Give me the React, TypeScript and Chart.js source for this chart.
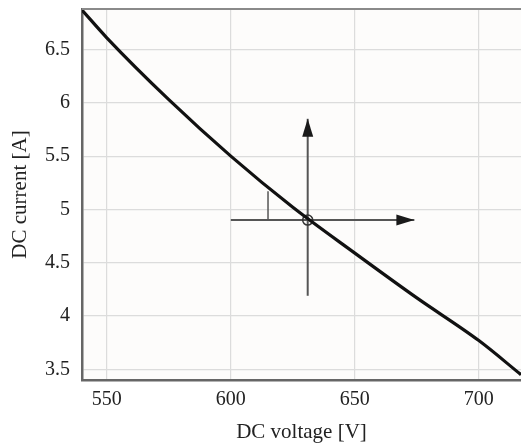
import React, { useEffect, useRef } from "react";
import { Chart, registerables } from "chart.js";

Chart.register(...registerables);

// Characteristic curve
const voltage = [540, 550, 575, 600, 625, 650, 675, 700, 717];
const current = [6.87, 6.61, 6.03, 5.5, 5.02, 4.59, 4.17, 3.77, 3.45];

// Operating point and arrows
const opVoltage = 631;
const opCurrent = 4.9;
const hArrowVoltage = [600, 674];
const vArrowCurrent = [4.19, 5.85];
const markVoltage = 615;
const markCurrent = [4.9, 5.17];

const xTicks = [550, 600, 650, 700];
const yTicks = [3.5, 4, 4.5, 5, 5.5, 6, 6.5];

const arrowPlugin = {
  id: "arrowHeads",
  afterDatasetsDraw(chart: any) {
    const ctx = chart.ctx;
    chart.data.datasets.forEach((ds: any, i: number) => {
      if (!ds.arrow) return;
      const meta = chart.getDatasetMeta(i);
      const pts = meta.data;
      const a = pts[pts.length - 2];
      const b = pts[pts.length - 1];
      const ang = Math.atan2(b.y - a.y, b.x - a.x);
      const len = 18;
      const hw = 5.5;
      ctx.save();
      ctx.translate(b.x, b.y);
      ctx.rotate(ang);
      ctx.beginPath();
      ctx.moveTo(0, 0);
      ctx.lineTo(-len, -hw);
      ctx.lineTo(-len, hw);
      ctx.closePath();
      ctx.fillStyle = "#1a1a1a";
      ctx.fill();
      ctx.restore();
    });
  },
  beforeDraw(chart: any) {
    const { ctx, chartArea } = chart;
    ctx.save();
    ctx.fillStyle = "#fdfcfb";
    ctx.fillRect(chartArea.left, chartArea.top, chartArea.right - chartArea.left, chartArea.bottom - chartArea.top);
    ctx.restore();
  },
  afterDraw(chart: any) {
    const { ctx, chartArea } = chart;
    ctx.save();
    ctx.strokeStyle = "#8a8a8a";
    ctx.lineWidth = 2;
    ctx.beginPath();
    ctx.moveTo(chartArea.left, chartArea.top);
    ctx.lineTo(chartArea.right, chartArea.top);
    ctx.stroke();
    ctx.restore();
  },
};

export default function App() {
  const ref = useRef<HTMLCanvasElement | null>(null);
  useEffect(() => {
    document.body.style.margin = "0";
    const family = "'Liberation Serif', 'Times New Roman', serif";
    const tickFont = { family, size: 20 };
    const titleFont = { family, size: 21 };
    const chart = new Chart(ref.current as HTMLCanvasElement, {
      type: "line",
      data: {
        datasets: [
          {
            data: voltage.map((v, i) => ({ x: v, y: current[i] })),
            borderColor: "#111",
            borderWidth: 3.2,
            pointRadius: 0,
            cubicInterpolationMode: "monotone",
            order: 0,
          },
          {
            data: hArrowVoltage.map((v) => ({ x: v, y: opCurrent })),
            borderColor: "#555",
            borderWidth: 2,
            pointRadius: 0,
            arrow: true,
            order: 1,
          } as any,
          {
            data: vArrowCurrent.map((c) => ({ x: opVoltage, y: c })),
            borderColor: "#555",
            borderWidth: 2,
            pointRadius: 0,
            arrow: true,
            order: 1,
          } as any,
          {
            data: markCurrent.map((c) => ({ x: markVoltage, y: c })),
            borderColor: "#555",
            borderWidth: 1.5,
            pointRadius: 0,
            order: 1,
          },
          {
            data: [{ x: opVoltage, y: opCurrent }],
            showLine: false,
            pointRadius: 5,
            pointBorderWidth: 1.5,
            pointBorderColor: "#333",
            pointBackgroundColor: "rgba(0,0,0,0)",
            order: 0,
          },
        ],
      },
      options: {
        responsive: false,
        animation: false,
        layout: { autoPadding: false, padding: { top: 9, right: 0, left: 0, bottom: 0 } },
        plugins: { legend: { display: false }, tooltip: { enabled: false } },
        scales: {
          x: {
            type: "linear",
            min: 540,
            max: 717,
            afterBuildTicks: (s: any) => {
              s.ticks = xTicks.map((v) => ({ value: v }));
            },
            afterFit: (s: any) => {
              s.height = 66;
              s.paddingRight = 0;
              s.paddingLeft = 0;
            },
            grid: { color: "#dcdcdc", lineWidth: 1.2, drawTicks: false },
            border: { color: "#666", width: 2.5 },
            ticks: { font: tickFont, color: "#222", padding: 8, maxRotation: 0 },
            title: { display: true, text: "DC voltage [V]", font: titleFont, color: "#222", padding: { top: 0, bottom: 1 } },
          },
          y: {
            type: "linear",
            min: 3.4,
            max: 6.88,
            afterBuildTicks: (s: any) => {
              s.ticks = yTicks.map((v) => ({ value: v }));
            },
            afterFit: (s: any) => {
              s.width = 82;
              s.paddingTop = 0;
              s.paddingBottom = 0;
            },
            grid: { color: "#dcdcdc", lineWidth: 1.2, drawTicks: false },
            border: { color: "#666", width: 2.5 },
            ticks: { font: tickFont, color: "#222", padding: 12, callback: (v: any) => String(v) },
            title: { display: true, text: "DC current [A]", font: titleFont, color: "#222", padding: { top: 8, bottom: 0 } },
          },
        },
      },
      plugins: [arrowPlugin],
    } as any);
    return () => chart.destroy();
  }, []);
  return (
    <div style={{ width: 521, height: 446 }}>
      <canvas ref={ref} width={521} height={446} />
    </div>
  );
}
